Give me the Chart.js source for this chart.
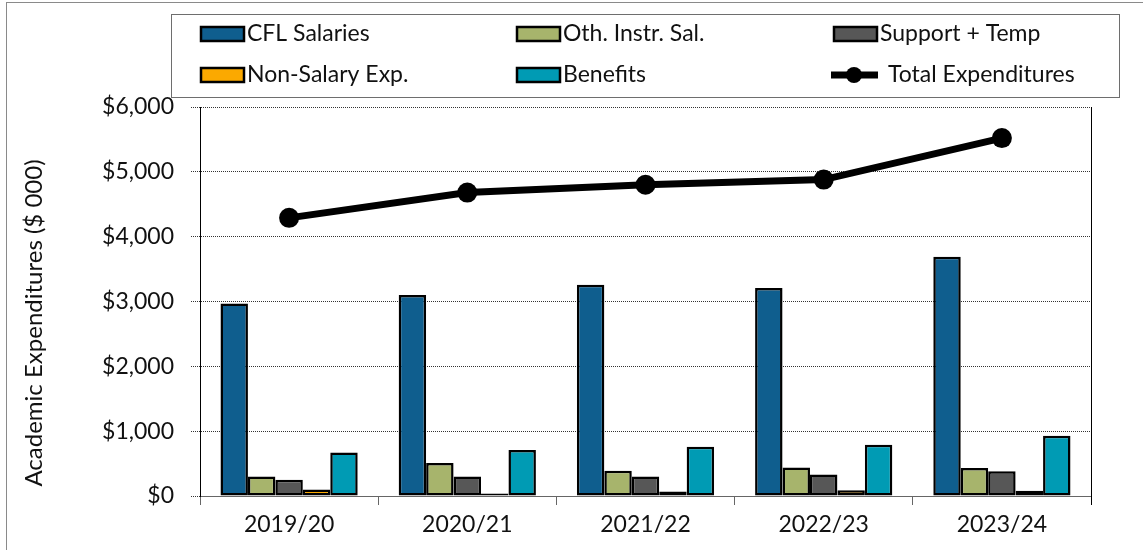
<!DOCTYPE html>
<html>
<head>
<meta charset="utf-8">
<script src="https://cdn.jsdelivr.net/npm/chart.js@4/dist/chart.umd.min.js"></script>
<style>
  html, body { margin: 0; padding: 0; background: #fff; }
  #wrap { width: 1143px; height: 550px; }
</style>
</head>
<body>
<div id="wrap"><canvas id="chart" width="1143" height="550"></canvas></div>
<script>
const years = ["2019/20", "2020/21", "2021/22", "2022/23", "2023/24"];

// $ 000
const cflSalaries = [2970, 3100, 3260, 3210, 3690];
const othInstrSal = [300, 510, 390, 440, 430];
const supportTemp = [250, 300, 300, 330, 380];
const nonSalaryExp = [100, 40, 70, 90, 80];
const benefits = [670, 710, 760, 790, 930];
const totalExp = [4290, 4680, 4800, 4880, 5520];

const yTicks = [0, 1000, 2000, 3000, 4000, 5000, 6000];
const yTitle = "Academic Expenditures ($ 000)";

const FONT = "Lato, 'Open Sans', sans-serif";

// legend drawn in its own box, 3 columns x 2 rows, plus frame and y title
const boxLegend = {
  id: "boxLegend",
  afterDraw(chart) {
    const ctx = chart.ctx;
    ctx.save();
    // outer frame
    ctx.strokeStyle = "#8a8a8a";
    ctx.lineWidth = 1;
    ctx.strokeRect(6.5, 2.5, 1200, 600);
    // legend frame
    ctx.strokeStyle = "#6e6e6e";
    ctx.strokeRect(171.5, 14.5, 948, 83);

    const colX = [201, 517, 834];
    const rowY = [34, 75];
    ctx.font = "23px " + FONT;
    ctx.textBaseline = "middle";
    ctx.fillStyle = "#111";
    chart.data.datasets.forEach((ds, i) => {
      const x = colX[i % 3];
      const y = rowY[Math.floor(i / 3)];
      if (ds.type === "line") {
        ctx.strokeStyle = "#000";
        ctx.lineWidth = 7;
        ctx.beginPath();
        ctx.moveTo(x - 3, y);
        ctx.lineTo(x + 44, y);
        ctx.stroke();
        ctx.beginPath();
        ctx.arc(x + 20, y, 8, 0, Math.PI * 2);
        ctx.fillStyle = "#000";
        ctx.fill();
        ctx.fillStyle = "#111";
        ctx.fillText(ds.label, x + 54, y);
      } else {
        ctx.fillStyle = ds.backgroundColor;
        ctx.fillRect(x, y - 7, 43, 14);
        ctx.strokeStyle = "#000";
        ctx.lineWidth = 2.5;
        ctx.strokeRect(x, y - 7, 43, 14);
        ctx.fillStyle = "#111";
        ctx.fillText(ds.label, x + 46, y);
      }
    });

    // y axis title, rotated
    ctx.translate(34, 323);
    ctx.rotate(-Math.PI / 2);
    ctx.font = "24px " + FONT;
    ctx.textAlign = "center";
    ctx.fillText(yTitle, 0, 0);
    ctx.restore();
  },
};

// solid right edge of plot area
const rightEdge = {
  id: "rightEdge",
  afterDatasetsDraw(chart) {
    const { ctx, chartArea } = chart;
    ctx.save();
    ctx.strokeStyle = "#000";
    ctx.lineWidth = 1;
    ctx.beginPath();
    ctx.moveTo(chartArea.right + 0.5, chartArea.top);
    ctx.lineTo(chartArea.right + 0.5, chartArea.bottom + 9);
    ctx.stroke();
    ctx.restore();
  },
};

function barSet(label, data, color) {
  return {
    type: "bar",
    label: label,
    data: data,
    backgroundColor: color,
    borderColor: "#000",
    borderWidth: 2.5,
    borderSkipped: false,
    categoryPercentage: 0.77,
    barPercentage: 1,
    order: 1,
  };
}

const ctx = document.getElementById("chart").getContext("2d");
new Chart(ctx, {
  data: {
    labels: years,
    datasets: [
      barSet("CFL Salaries", cflSalaries, "#0f5e8e"),
      barSet("Oth. Instr. Sal.", othInstrSal, "#a7b46c"),
      barSet("Support + Temp", supportTemp, "#575757"),
      barSet("Non-Salary Exp.", nonSalaryExp, "#fba900"),
      barSet("Benefits", benefits, "#009bb4"),
      {
        type: "line",
        label: "Total Expenditures",
        data: totalExp,
        borderColor: "#000",
        backgroundColor: "#000",
        borderWidth: 7,
        pointRadius: 10,
        pointBackgroundColor: "#000",
        pointBorderWidth: 0,
        tension: 0,
        order: 0,
      },
    ],
  },
  options: {
    responsive: false,
    animation: false,
    layout: { padding: { top: 107, right: 52, left: 0, bottom: 0 } },
    plugins: {
      legend: { display: false },
      tooltip: { enabled: false },
    },
    scales: {
      x: {
        grid: { drawOnChartArea: false, tickLength: 9, color: "#666" },
        border: { color: "#666" },
        ticks: { font: { family: FONT, size: 23 }, color: "#111", padding: 6 },
        afterFit(scale) {
          scale.height = 54;
        },
      },
      y: {
        min: 0,
        max: 6000,
        afterBuildTicks(scale) {
          scale.ticks = yTicks.map((v) => ({ value: v }));
        },
        grid: {
          color: "#333",
          tickLength: 9,
          tickBorderDash: [1, 1],
        },
        border: { color: "#000", dash: [1, 1] },
        ticks: {
          font: { family: FONT, size: 23 },
          color: "#111",
          padding: 17,
          callback: (v) => "$" + v.toLocaleString("en-US"),
        },
        afterFit(scale) {
          scale.width = 200;
        },
      },
    },
  },
  plugins: [boxLegend, rightEdge],
});
</script>
</body>
</html>
